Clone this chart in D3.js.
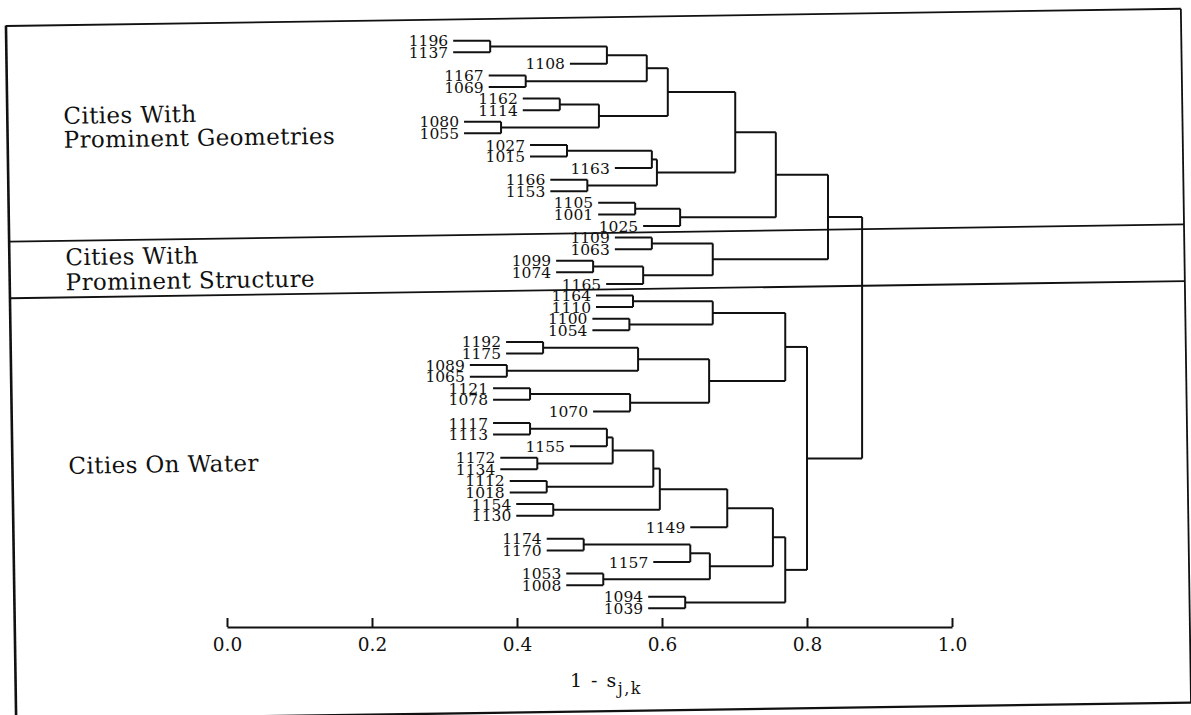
<!DOCTYPE html>
<html>
<head>
<meta charset="utf-8">
<script src="https://cdn.jsdelivr.net/npm/d3@7"></script>
<style>
  body { margin: 0; background: #fff; }
  svg { display: block; }
  text { font-family: "DejaVu Serif", "Liberation Serif", serif; fill: #111; }
</style>
</head>
<body>
<svg id="chart" width="1191" height="715"></svg>
<script>
// merges: [cluster, upper child, lower child, merge level (1 - s)]
var merges = [
	["a", "1196", "1137", 0.363],
	["b", "a", "1108", 0.524],
	["c", "1167", "1069", 0.412],
	["d", "b", "c", 0.579],
	["e", "1162", "1114", 0.459],
	["f", "1080", "1055", 0.378],
	["g", "e", "f", 0.513],
	["h", "d", "g", 0.608],
	["i", "1027", "1015", 0.469],
	["j", "i", "1163", 0.586],
	["k", "1166", "1153", 0.497],
	["l", "j", "k", 0.593],
	["m", "h", "l", 0.701],
	["n", "1105", "1001", 0.563],
	["o", "n", "1025", 0.625],
	["p", "m", "o", 0.757],
	["q", "1109", "1063", 0.586],
	["r", "1099", "1074", 0.505],
	["s", "r", "1165", 0.574],
	["t", "q", "s", 0.670],
	["u", "p", "t", 0.829],
	["v", "1164", "1110", 0.560],
	["w", "1100", "1054", 0.555],
	["x", "v", "w", 0.670],
	["y", "1192", "1175", 0.436],
	["z", "1089", "1065", 0.386],
	["aa", "y", "z", 0.567],
	["ab", "1121", "1078", 0.418],
	["ac", "ab", "1070", 0.556],
	["ad", "aa", "ac", 0.665],
	["ae", "x", "ad", 0.770],
	["af", "1117", "1113", 0.418],
	["ag", "af", "1155", 0.524],
	["ah", "1172", "1134", 0.428],
	["ai", "ag", "ah", 0.532],
	["aj", "1112", "1018", 0.441],
	["ak1", "ai", "aj", 0.588],
	["ak2", "1154", "1130", 0.450],
	["ak", "ak1", "ak2", 0.597],
	["al", "ak", "1149", 0.690],
	["am", "1174", "1170", 0.492],
	["an", "am", "1157", 0.639],
	["ao", "1053", "1008", 0.519],
	["ap", "an", "ao", 0.666],
	["aq", "al", "ap", 0.753],
	["ar", "1094", "1039", 0.632],
	["as", "aq", "ar", 0.770],
	["at", "ae", "as", 0.800],
	["root", "u", "at", 0.876]
];

var tickValues = [0.0, 0.2, 0.4, 0.6, 0.8, 1.0];

var groupLabels = [
	["Cities With", "Prominent Geometries"],
	["Cities With", "Prominent Structure"],
	["Cities On Water"]
];

var svg = d3.select("#chart");
var stub = 37; // length of the leaf lines

// build the tree
var byId = {};
merges.forEach(function (m) { byId[m[0]] = m; });
function build(id) {
	var m = byId[id];
	if (!m) return { name: id };
	return { name: id, h: m[3], children: [build(m[1]), build(m[2])] };
}
var root = d3.hierarchy(build("root"));
var leafNames = root.leaves().map(function (d) { return d.data.name; });

var x = d3.scaleLinear().domain([0, 1]).range([227, 952]);
var y = d3.scalePoint().domain(leafNames).range([40.7, 608.3]);

root.eachAfter(function (n) {
	n.y = n.children ? d3.mean(n.children, function (c) { return c.y; }) : y(n.data.name);
});

// frame, separators and group names (slightly skewed like the scan)
var frame = svg.append("g").attr("transform", "rotate(-0.84,595,365)");
frame.append("line").attr("x1", 11).attr("x2", 11).attr("y1", 17).attr("y2", 720)
	.attr("stroke", "#111").attr("stroke-width", 2.6);
frame.append("line").attr("x1", 11).attr("x2", 1186).attr("y1", 17.4).attr("y2", 17.4)
	.attr("stroke", "#111").attr("stroke-width", 1.8);
frame.append("line").attr("x1", 11).attr("x2", 1186).attr("y1", 711.3).attr("y2", 711.3)
	.attr("stroke", "#111").attr("stroke-width", 2.4);
frame.append("line").attr("x1", 1186).attr("x2", 1186).attr("y1", 17.4).attr("y2", 711.3)
	.attr("stroke", "#111").attr("stroke-width", 1.8);
[233.1, 289.7].forEach(function (sy) {
	frame.append("line").attr("x1", 11).attr("x2", 1186).attr("y1", sy).attr("y2", sy)
		.attr("stroke", "#111").attr("stroke-width", 1.8);
});

var labelBase = [[116, 140], [257.5, 282.5], [466]];
groupLabels.forEach(function (lines, gi) {
	lines.forEach(function (t, li) {
		frame.append("text")
			.attr("x", 67)
			.attr("y", labelBase[gi][li])
			.attr("font-size", 23)
			.attr("letter-spacing", 0.4)
			.text(t);
	});
});

// dendrogram links
var links = svg.append("g").attr("fill", "none").attr("stroke", "#111").attr("stroke-width", 2);
root.descendants().filter(function (n) { return n.children; }).forEach(function (n) {
	var nx = x(n.data.h);
	var c0 = n.children[0], c1 = n.children[1];
	links.append("path").attr("d", "M" + nx + "," + c0.y + "V" + c1.y);
	n.children.forEach(function (c) {
		var cx = c.children ? x(c.data.h) : nx - stub;
		links.append("path").attr("d", "M" + cx + "," + c.y + "H" + nx);
	});
});

// leaf labels
svg.append("g").selectAll("text")
	.data(root.leaves())
	.join("text")
	.attr("x", function (d) { return x(d.parent.data.h) - stub - 5; })
	.attr("y", function (d) { return d.y; })
	.attr("dy", "0.36em")
	.attr("text-anchor", "end")
	.attr("font-size", 15.5)
	.text(function (d) { return d.data.name; });

// axis
var axis = d3.axisBottom(x)
	.tickValues(tickValues)
	.tickFormat(d3.format(".1f"))
	.tickSize(-9)
	.tickSizeOuter(0)
	.tickPadding(11);
var ax = svg.append("g").attr("transform", "translate(0,627)").call(axis);
ax.select(".domain").attr("stroke", "#111").attr("stroke-width", 2);
ax.selectAll(".tick line").attr("stroke", "#111").attr("stroke-width", 2);
ax.selectAll(".tick text")
	.attr("font-family", "DejaVu Serif, serif")
	.attr("font-size", 18.5)
	.attr("fill", "#111");

// axis title
var title = svg.append("text")
	.attr("x", 606)
	.attr("y", 687)
	.attr("text-anchor", "middle")
	.attr("font-size", 19)
	.attr("letter-spacing", 1.5)
	.text("1 - s");
title.append("tspan").attr("dy", 7).attr("font-size", 16).text("j,k");
</script>
</body>
</html>
